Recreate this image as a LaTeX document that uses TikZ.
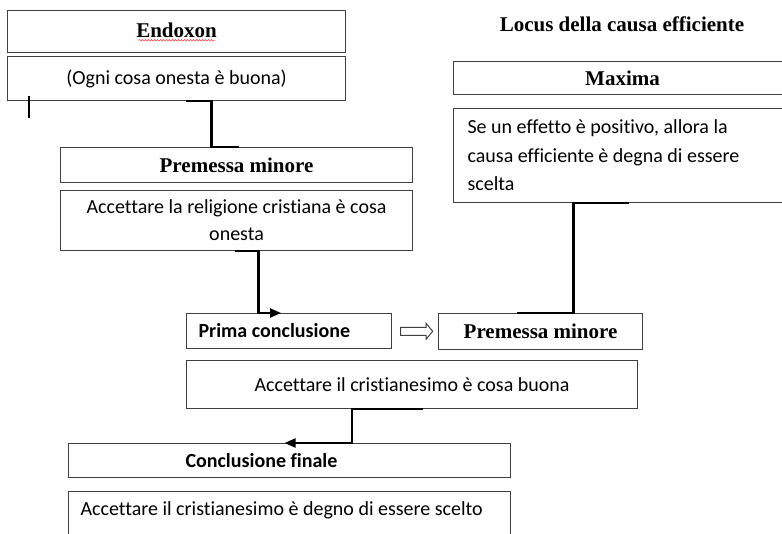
\documentclass[tikz,border=0pt]{standalone}
\usepackage{fontspec}
\setmainfont{Carlito}[Ligatures=NoCommon]
\newfontfamily\tnr{Liberation Serif}
\usetikzlibrary{shapes,arrows,positioning,calc,decorations.pathmorphing,arrows.meta}

\begin{document}
\begin{tikzpicture}[
    x=1pt, y=-1pt,
    box/.style={draw=black!75, line width=1.1pt, rectangle, anchor=north west,
        inner sep=0pt, font=\fontsize{20}{27}\selectfont},
    head/.style={box, font=\tnr\bfseries\fontsize{21}{24}\selectfont},
    lbox/.style={box, align=flush left, font=\bfseries\fontsize{20}{24}\selectfont},
    conn/.style={line width=2.2pt, black},
    tip/.style={conn, -{Triangle[length=11pt,width=9pt]}}
]
    \useasboundingbox (0,0) rectangle (782,534);
    \clip (0,0) rectangle (782,534);

    \node[head, minimum width=338pt, minimum height=42pt, text depth=3pt] (endox) at (7,10) {Endoxon};
    \node[box, minimum width=338pt, minimum height=44pt] (ogni) at (7,56) {(Ogni cosa onesta è buona)};
    \node[head, minimum width=352pt, minimum height=35pt] (premL) at (60,147) {Premessa minore};
    \node[box, minimum width=352pt, minimum height=60pt, text width=352pt, align=flush center] (relig) at (60,190)
        {Accettare la religione cristiana è cosa\\onesta};
    \node[lbox, inner xsep=12pt, text width=181pt, minimum height=35pt] (prima) at (186,313) {Prima conclusione};
    \node[head, minimum width=204pt, minimum height=36pt] (premR) at (438,313) {Premessa minore};
    \node[single arrow, draw=black!75, line width=1pt, minimum height=32pt, inner xsep=0pt, inner ysep=3.5pt,
        single arrow head extend=4pt, single arrow tip angle=100] (impl) at ($(prima.east)!.5!(premR.west)$) {};
    \node[box, minimum width=451pt, minimum height=48pt] (buona) at (186,360) {Accettare il cristianesimo è cosa buona};
    \node[lbox, inner xsep=117pt, text width=208pt, minimum height=34pt] (fin) at (68,443) {Conclusione finale};
    \node[box, align=flush left, inner xsep=12pt, inner ysep=11pt, text width=418pt, text height=13pt, text depth=40pt]
        (degno) at (68,491) {Accettare il cristianesimo è degno di essere scelto};

    \node[font=\tnr\bfseries\fontsize{21}{24}\selectfont] (locus) at (622,24) {Locus della causa efficiente};
    \node[head, minimum width=338pt, minimum height=33pt] (maxima) at (453,61) {Maxima};
    \node[box, align=flush left, inner xsep=14pt, text width=310pt, minimum height=94pt,
        font=\fontsize{20}{28.5}\selectfont] (maxtxt) at (453,108)
        {Se un effetto è positivo, allora la\\causa efficiente è degna di essere\\scelta};

    \draw[red!80, line width=.5pt, decorate, decoration={snake, amplitude=.8pt, segment length=3pt}]
        ([xshift=-38pt,yshift=-3pt]endox.base) -- ++(76,0);
    \draw[line width=1.3pt] ([xshift=22pt,yshift=5pt]ogni.south west) -- ++(0,22);

    \draw[conn] ([xshift=9pt]ogni.south) -- ++(26,0) |- ([xshift=2pt]premL.north);
    \draw[tip] ([xshift=-2pt]relig.south) -- ++(24,0) |- ([xshift=-8pt]prima.north);
    \draw[conn] ([xshift=6pt]maxtxt.south) -| ([xshift=33pt]premR.north) -- ([xshift=-24pt]premR.north);
    \draw[tip] ([xshift=11pt]buona.south) -- ++(-71,0) |- ([xshift=-5pt]fin.north);
\end{tikzpicture}
\end{document}
